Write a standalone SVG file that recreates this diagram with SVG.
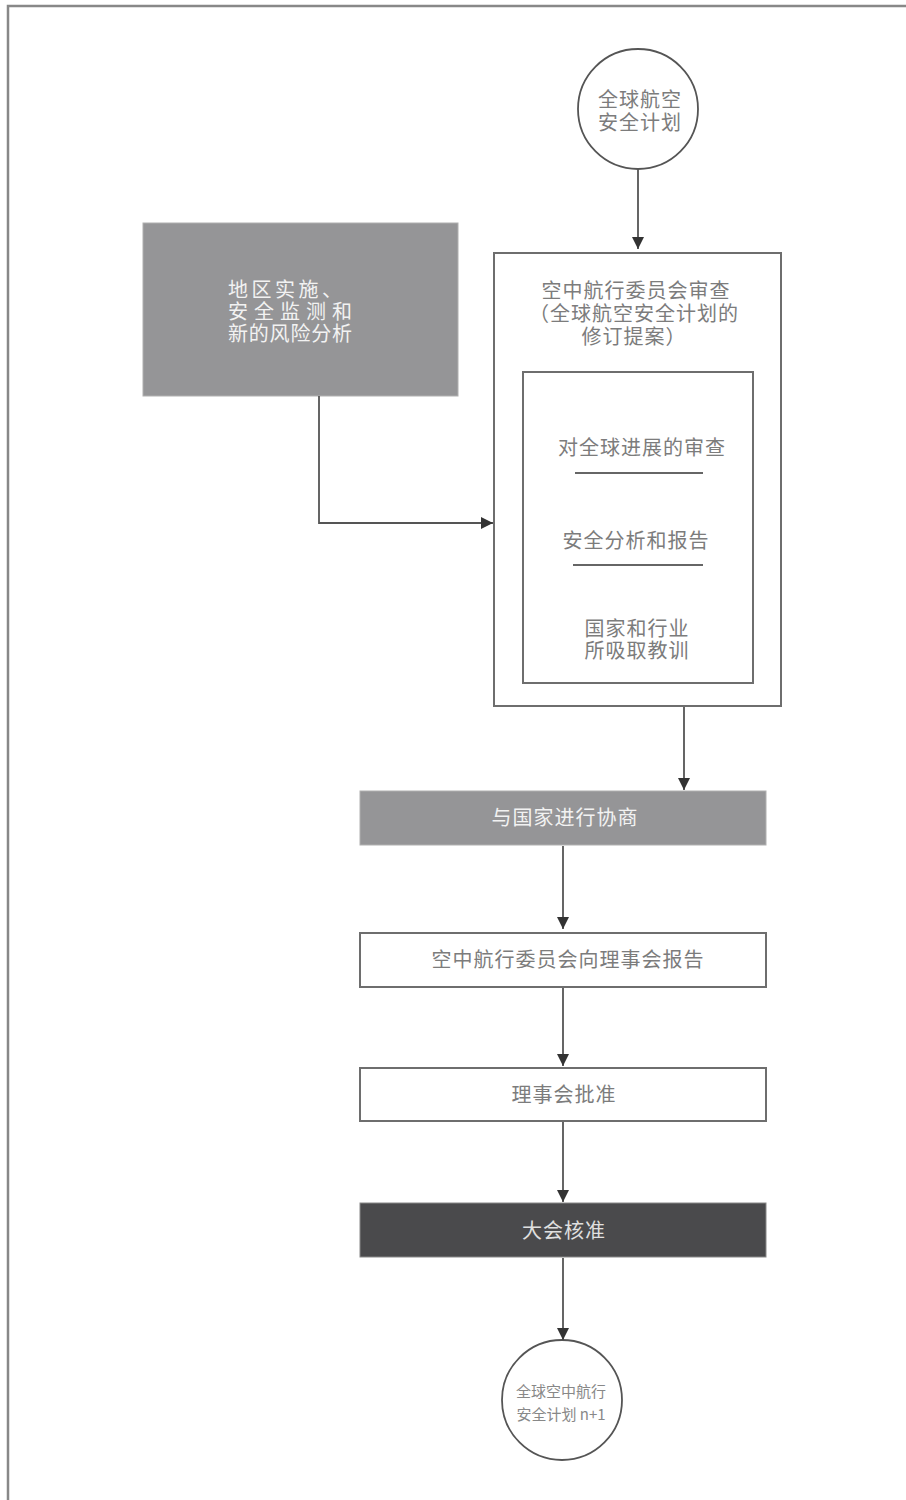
<svg xmlns="http://www.w3.org/2000/svg" width="906" height="1500" viewBox="0 0 906 1500">
<defs>
<style>
.t{font-family:"Noto Sans CJK SC","Liberation Sans",sans-serif;font-size:20px;fill:#7c7c7c;text-anchor:middle;letter-spacing:1px}
.tw{font-family:"Noto Sans CJK SC","Liberation Sans",sans-serif;font-size:20px;fill:#f2f2f2;text-anchor:middle;letter-spacing:1px}
.box{fill:#fff;stroke:#6e6e6e;stroke-width:2}
.gray{fill:#959597;stroke:#b0b0b0;stroke-width:1}
.dark{fill:#4a4a4c;stroke:#888;stroke-width:1}
.con{fill:none;stroke:#555;stroke-width:1.8}
</style>
<marker id="ah" viewBox="0 0 12 12" refX="12" refY="6" markerWidth="12" markerHeight="12" markerUnits="userSpaceOnUse" orient="auto">
<path d="M0,0 L12,6 L0,12 Z" fill="#333"/>
</marker>
</defs>
<rect width="906" height="1500" fill="#fff"/>
<path d="M8,1500 V6 H906" fill="none" stroke="#888" stroke-width="2.5"/>

<g id="start">
<circle cx="638" cy="109" r="60" fill="#fff" stroke="#555" stroke-width="1.8"/>
<text class="t"><tspan x="640" y="107">全球航空</tspan><tspan x="640" y="130">安全计划</tspan></text>
</g>

<g id="regional">
<rect class="gray" x="143" y="223" width="315" height="173"/>
<text class="tw" style="text-anchor:start;letter-spacing:0"><tspan x="228" y="297" textLength="114" lengthAdjust="spacing">地区实施、</tspan><tspan x="228" y="319" textLength="124" lengthAdjust="spacing">安全监测和</tspan><tspan x="228" y="341" textLength="124" lengthAdjust="spacing">新的风险分析</tspan></text>
</g>

<g id="anc-review">
<rect class="box" x="494" y="253" width="287" height="453"/>
<text class="t"><tspan x="636" y="298">空中航行委员会审查</tspan><tspan x="634" y="321">（全球航空安全计划的</tspan><tspan x="634" y="344">修订提案）</tspan></text>
<rect class="box" x="523" y="372" width="230" height="311"/>
<text class="t" x="642" y="455">对全球进展的审查</text>
<line x1="575" y1="473" x2="703" y2="473" stroke="#333" stroke-width="1.5"/>
<text class="t" x="636" y="548">安全分析和报告</text>
<line x1="573" y1="565" x2="703" y2="565" stroke="#333" stroke-width="1.5"/>
<text class="t"><tspan x="637" y="636">国家和行业</tspan><tspan x="637" y="658">所吸取教训</tspan></text>
</g>

<g id="consult">
<rect class="gray" x="360" y="791" width="406" height="54"/>
<text class="tw" x="565" y="825">与国家进行协商</text>
</g>

<g id="report">
<rect class="box" x="360" y="933" width="406" height="54"/>
<text class="t" x="568" y="967">空中航行委员会向理事会报告</text>
</g>

<g id="council">
<rect class="box" x="360" y="1068" width="406" height="53"/>
<text class="t" x="564" y="1102">理事会批准</text>
</g>

<g id="assembly">
<rect class="dark" x="360" y="1203" width="406" height="54"/>
<text class="tw" x="564" y="1238" style="fill:#e0e0e0">大会核准</text>
</g>

<g id="end">
<circle cx="562" cy="1400" r="60" fill="#fff" stroke="#555" stroke-width="1.8"/>
<text class="t" style="font-size:15px;fill:#888;letter-spacing:0"><tspan x="561" y="1397">全球空中航行</tspan><tspan x="561" y="1420">安全计划 n+1</tspan></text>
</g>

<g id="connectors">
<line class="con" x1="638" y1="169" x2="638" y2="249" marker-end="url(#ah)"/>
<polyline class="con" points="319,396 319,523 493,523" marker-end="url(#ah)"/>
<line class="con" x1="684" y1="707" x2="684" y2="790" marker-end="url(#ah)"/>
<line class="con" x1="563" y1="846" x2="563" y2="929" marker-end="url(#ah)"/>
<line class="con" x1="563" y1="988" x2="563" y2="1066" marker-end="url(#ah)"/>
<line class="con" x1="563" y1="1122" x2="563" y2="1202" marker-end="url(#ah)"/>
<line class="con" x1="563" y1="1258" x2="563" y2="1340" marker-end="url(#ah)"/>
</g>
</svg>
